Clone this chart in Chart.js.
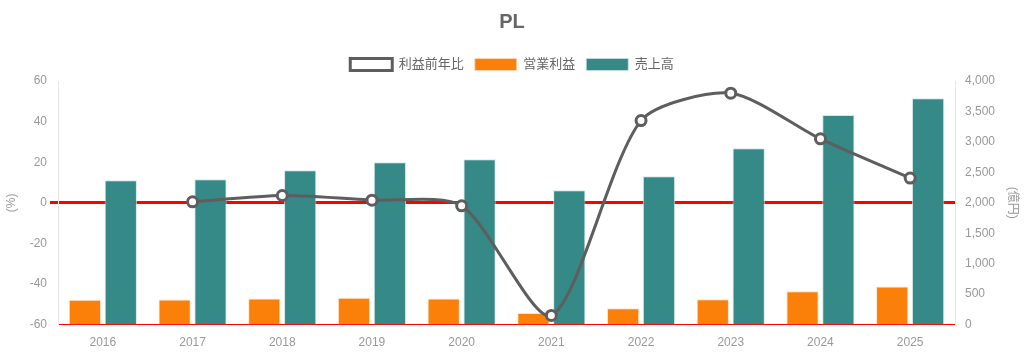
<!DOCTYPE html>
<html><head><meta charset="utf-8">
<script src="https://cdn.jsdelivr.net/npm/chart.js@4"></script>
<style>html,body{margin:0;padding:0;background:#fff}#wrap{width:1024px;height:355px}</style>
</head><body><div id="wrap"><canvas id="c"></canvas></div>
<script>
const categories = ["2016","2017","2018","2019","2020","2021","2022","2023","2024","2025"];
const growthPct = [null, 0.5, 3.6, 1.3, -1.5, -55.5, 40.5, 54, 31.5, 12.2];
const operatingProfit = [407, 411, 428, 439, 428, 192, 269, 417, 549, 626];
const sales = [2370, 2387, 2535, 2667, 2716, 2206, 2436, 2897, 3440, 3716];
const leftTicks = [-60, -40, -20, 0, 20, 40, 60];
const rightTicks = [0, 500, 1000, 1500, 2000, 2500, 3000, 3500, 4000];

Chart.defaults.font.family = "'Liberation Sans', Arial, 'Noto Sans CJK JP', sans-serif";
new Chart(document.getElementById('c'), {
  type: 'bar',
  data: {
    labels: categories,
    datasets: [
      { type: 'line', label: '利益前年比', data: growthPct, yAxisID: 'yL',
        borderColor: '#5e5e5e', borderWidth: 3, backgroundColor: '#ffffff',
        pointRadius: 5, pointBorderWidth: 3, pointBackgroundColor: '#ffffff', pointBorderColor: '#5e5e5e',
        tension: 0.25, fill: false },
      { label: '営業利益', data: operatingProfit, yAxisID: 'yR',
        backgroundColor: '#fb8009', borderColor: 'rgba(255,220,190,0.8)', borderWidth: 1,
        barPercentage: 0.9, categoryPercentage: 0.8 },
      { label: '売上高', data: sales, yAxisID: 'yR',
        backgroundColor: '#358986', borderColor: 'rgba(200,225,225,0.8)', borderWidth: 1,
        barPercentage: 0.9, categoryPercentage: 0.8 }
    ]
  },
  options: {
    responsive: true, maintainAspectRatio: false, animation: false,
    layout: { padding: { left: 0, right: 0, top: 4, bottom: 2 } },
    plugins: {
      title: { display: true, text: 'PL', color: '#666', font: { size: 20, weight: 'bold' }, padding: { top: 6, bottom: 13 } },
      legend: { labels: { color: '#666', font: { size: 13 }, boxWidth: 42, boxHeight: 12, padding: 11 } },
      tooltip: { enabled: false }
    },
    scales: {
      x: {
        grid: { display: false },
        border: { color: '#ff0000', width: 1 },
        ticks: { color: '#999', font: { size: 12 } }
      },
      yL: {
        position: 'left', min: -60, max: 60,
        afterBuildTicks: (a) => { a.ticks = leftTicks.map(v => ({ value: v })); },
        afterFit: (s) => { s.width = 58; },
        grid: { color: (ctx) => ctx.tick && ctx.tick.value === 0 ? '#ff0000' : 'rgba(0,0,0,0)',
                lineWidth: (ctx) => ctx.tick && ctx.tick.value === 0 ? 3 : 1, tickLength: 8 },
        border: { color: '#e6e6e6' },
        ticks: { color: '#999', font: { size: 12 } },
        title: { display: true, text: '(%)', color: '#999', font: { size: 12 } }
      },
      yR: {
        position: 'right', min: 0, max: 4000,
        afterBuildTicks: (a) => { a.ticks = rightTicks.map(v => ({ value: v })); },
        afterFit: (s) => { s.width = 69; },
        grid: { display: false },
        border: { color: '#e6e6e6' },
        ticks: { color: '#999', font: { size: 12 }, padding: 2 },
        title: { display: true, text: '(億円)', color: '#999', font: { size: 12 } }
      }
    }
  }
});
</script></body></html>
